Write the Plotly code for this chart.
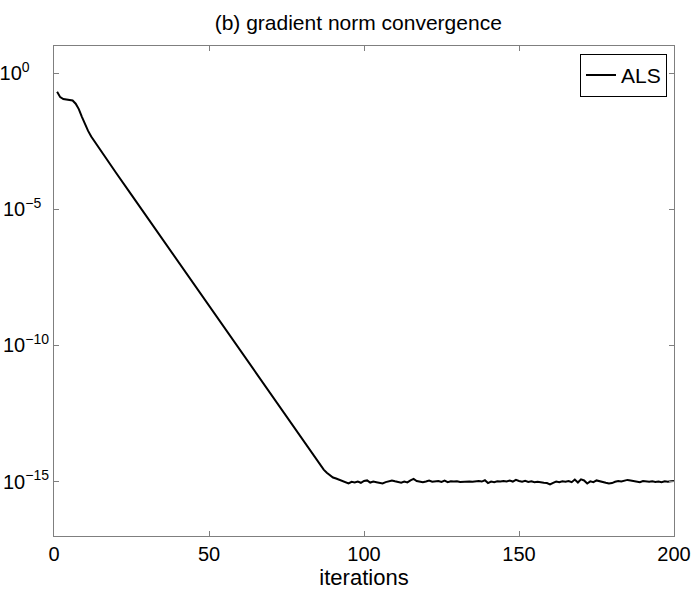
import plotly.graph_objects as go

# Iteration numbers and gradient norm values
iterations = [1, 2, 3, 4, 5, 6, 7, 8, 9, 10, 11, 12,
              15, 20, 25, 30, 35, 40, 45, 50, 55, 60, 65, 70, 75, 80,
              85, 86, 87, 88, 89, 90, 91] + list(range(92, 201))

grad_norm_head = [0.209, 0.132, 0.112, 0.107, 0.107, 0.100, 0.076, 0.048, 0.025, 0.0132, 0.0076, 0.0047,
                  1.45e-3, 2.2e-4, 3.4e-5, 5.2e-6, 7.9e-7, 1.23e-7, 1.86e-8, 2.9e-9, 4.4e-10, 6.7e-11,
                  1.02e-11, 1.58e-12, 2.4e-13, 3.7e-14,
                  5.6e-15, 3.8e-15, 2.75e-15, 2.1e-15, 1.66e-15, 1.41e-15, 1.29e-15]

# plateau region, iterations 92..200, in units of 1e-15
plateau_e15 = [1.15, 1.05, 0.95, 0.85, 0.98, 0.92, 1.00, 0.90, 1.05, 1.10,
               0.92, 1.00, 0.95, 0.88, 0.85, 0.95, 1.05, 1.10, 1.02, 0.98,
               0.90, 1.00, 0.93, 1.10, 1.25, 1.05, 0.98, 0.95, 1.00, 1.08,
               0.98, 1.02, 1.05, 0.97, 1.08, 0.95, 1.03, 1.00, 1.02, 0.97,
               1.00, 1.03, 1.00, 0.98, 1.02, 1.05, 1.00, 1.12, 0.88, 1.00,
               0.95, 1.02, 1.00, 1.05, 1.00, 1.08, 1.00, 1.15, 1.05, 0.98,
               1.06, 0.97, 1.02, 0.95, 0.98, 0.92, 0.90, 0.88, 0.78, 0.90,
               1.00, 0.95, 1.02, 0.98, 1.05, 0.95, 1.18, 0.92, 1.20, 1.10,
               0.85, 1.02, 0.95, 1.10, 1.05, 0.95, 0.90, 0.85, 0.88, 0.98,
               1.05, 1.00, 1.08, 1.15, 1.10, 1.05, 1.02, 0.95, 1.05, 1.00,
               0.98, 1.02, 0.97, 1.00, 0.95, 1.02, 0.98, 1.03, 1.05]

grad_norm = grad_norm_head + [v * 1e-15 for v in plateau_e15]

x_ticks = [0, 50, 100, 150, 200]
y_tick_vals = [1, 1e-5, 1e-10, 1e-15]
NB = "\u00a0"
y_tick_text = ["10<sup>0" + NB * 5 + "</sup>",
               "10<sup>\u22125" + NB * 2 + "</sup>",
               "10<sup>\u221210</sup>",
               "10<sup>\u221215</sup>"]

FONT = "Liberation Sans, Arial, Helvetica, sans-serif"
AXCOL = "#7f7f7f"

fig = go.Figure()
fig.add_trace(go.Scatter(x=iterations, y=grad_norm, mode="lines", name="ALS",
                         line=dict(color="black", width=2)))

fig.update_layout(
    width=697, height=592,
    margin=dict(l=54, r=23, t=46, b=56, autoexpand=False),
    paper_bgcolor="white", plot_bgcolor="white",
    font=dict(family=FONT, size=20, color="black"),
    title=dict(text="(b) gradient norm convergence", x=0.514, xanchor="center",
               y=0.961, yanchor="middle", automargin=False,
               font=dict(family=FONT, size=21, color="black")),
    showlegend=True,
    legend=dict(x=0.9887, y=0.984, xanchor="right", yanchor="top",
                bordercolor="black", borderwidth=1, bgcolor="white",
                font=dict(family=FONT, size=21, color="black"),
                itemwidth=30, tracegroupgap=0),
)
fig.update_xaxes(range=[0, 200], tickvals=x_ticks, ticks="inside", ticklen=5,
                 tickcolor=AXCOL, showline=True, linecolor=AXCOL, linewidth=1,
                 mirror="ticks", showgrid=False, zeroline=False, automargin=False,
                 title=dict(text="iterations", standoff=0, font=dict(size=22)))
fig.update_yaxes(type="log", range=[-17, 1], tickvals=y_tick_vals, ticktext=y_tick_text,
                 ticks="inside", ticklen=5, tickcolor=AXCOL, showline=True,
                 linecolor=AXCOL, linewidth=1, mirror="ticks", showgrid=False,
                 zeroline=False, automargin=False)

fig.write_html("out.html", config={"displayModeBar": False},
               post_script="document.body.style.margin='0';document.body.style.padding='0';")
